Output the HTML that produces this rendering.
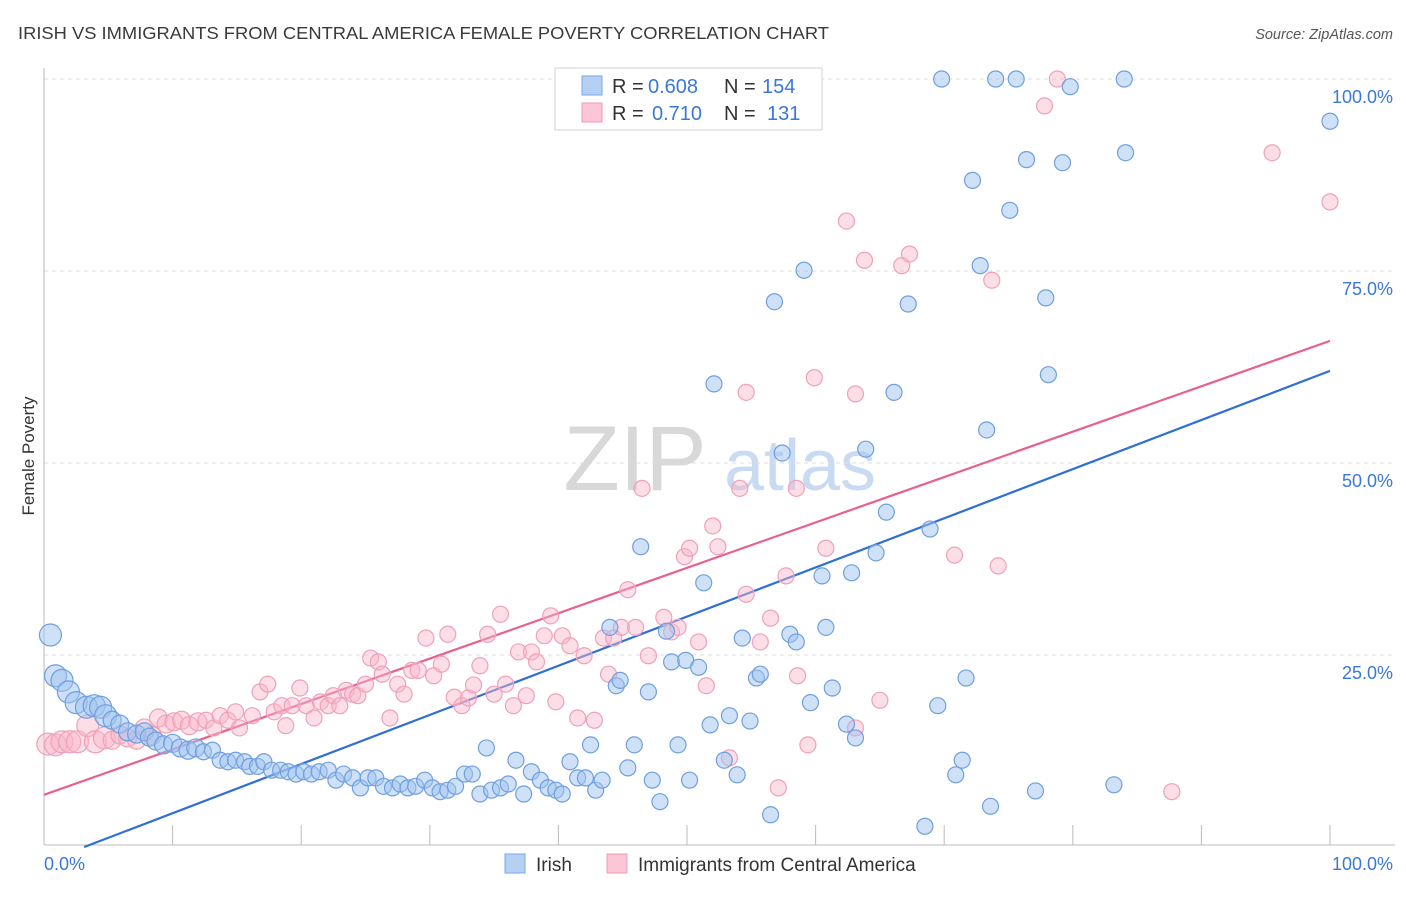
<!DOCTYPE html>
<html><head><meta charset="utf-8"><style>
body{margin:0;background:#fff;font-family:"Liberation Sans",sans-serif}
svg text{font-family:"Liberation Sans",sans-serif}
</style></head><body>
<svg id="chart" width="1406" height="892" xmlns="http://www.w3.org/2000/svg">
<text x="18" y="39" font-size="17.5" fill="#3a3a3a" textLength="811" lengthAdjust="spacingAndGlyphs">IRISH VS IMMIGRANTS FROM CENTRAL AMERICA FEMALE POVERTY CORRELATION CHART</text>
<text x="1393" y="39" font-size="14.5" fill="#555" font-style="italic" text-anchor="end">Source: ZipAtlas.com</text>
<text x="34" y="456" font-size="17" fill="#333" text-anchor="middle" transform="rotate(-90 34 456)">Female Poverty</text>
<g>
<text x="635" y="490" font-size="92" fill="#d8d8d8" font-family="Liberation Serif" text-anchor="middle">ZIP</text>
<text x="800" y="490" font-size="72" fill="#c9dbf2" text-anchor="middle">atlas</text>
</g>
<g id="grid"></g><g id="axes"></g><g id="lines"></g><g id="pts"></g>
<g>
<rect x="555" y="68" width="267" height="62" fill="#fff" stroke="#d0d0d0"/>
<rect x="582" y="76" width="20" height="19" fill="#b5d0f3" stroke="#7aa7e3"/>
<rect x="582" y="103" width="20" height="19" fill="#fcc6d6" stroke="#f09ab4"/>
<text x="612" y="93" font-size="20" fill="#333">R =</text>
<text x="648" y="93" font-size="20" fill="#3a78d8">0.608</text>
<text x="724" y="93" font-size="20" fill="#333">N =</text>
<text x="762" y="93" font-size="20" fill="#3a78d8">154</text>
<text x="612" y="120" font-size="20" fill="#333">R =</text>
<text x="652" y="120" font-size="20" fill="#3a78d8">0.710</text>
<text x="724" y="120" font-size="20" fill="#333">N =</text>
<text x="767" y="120" font-size="20" fill="#3a78d8">131</text>
</g>
<g>
<rect x="505" y="854" width="20" height="19" fill="#b5d0f3" stroke="#7aa7e3"/>
<text x="536" y="871" font-size="19" fill="#333">Irish</text>
<rect x="607" y="854" width="20" height="19" fill="#fcc6d6" stroke="#f09ab4"/>
<text x="638" y="871" font-size="19" fill="#333">Immigrants from Central America</text>
</g>
</svg>
<script>
const yTicks=[25,50,75,100];
const yTickLabels=["25.0%","50.0%","75.0%","100.0%"];
const xEdgeLabels=["0.0%","100.0%"];
const irishX=[0.5,0.9,1.4,1.9,2.5,3.3,3.9,4.4,4.8,5.3,5.9,6.5,7.2,7.8,8.2,8.7,9.3,10.0,10.6,11.2,11.8,12.4,13.1,13.7,14.3,14.9,15.6,16.0,16.6,17.1,17.7,18.4,19.0,19.6,20.2,20.8,21.4,22.1,22.7,23.3,24.0,24.6,25.2,25.8,26.4,27.1,27.7,28.3,28.9,29.6,30.2,30.8,31.4,32.0,32.7,33.3,33.9,34.4,34.8,35.5,36.1,36.7,37.3,37.9,38.6,39.2,39.8,40.3,40.9,41.5,42.1,42.5,42.9,43.4,44.0,44.5,44.8,45.4,45.9,46.4,47.0,47.3,47.9,48.4,48.8,49.3,49.9,50.2,50.9,51.3,51.8,52.1,52.9,53.3,53.9,54.3,54.9,55.4,55.7,56.5,56.8,57.4,58.0,58.5,59.1,59.6,60.5,60.8,61.3,62.4,62.8,63.1,63.9,64.7,65.5,66.1,67.2,68.5,68.9,69.5,69.8,70.9,71.4,71.7,72.2,72.8,73.3,73.6,74.0,75.1,75.6,76.4,77.1,77.9,78.1,79.2,79.8,83.2,84.0,84.1,100];
const irishY=[27.6,22.3,21.7,20.2,18.8,18.2,18.4,18.2,17.1,16.5,16.0,15.0,14.7,15.0,14.3,13.8,13.3,13.5,12.9,12.6,12.9,12.4,12.6,11.3,11.1,11.3,11.1,10.5,10.5,11.1,10.0,10.0,9.8,9.5,9.8,9.5,9.8,10.0,8.7,9.5,9.0,7.7,9.0,9.0,7.9,7.7,8.2,7.7,7.9,8.7,7.7,7.2,7.4,7.9,9.5,9.5,6.9,12.9,7.4,7.7,8.2,11.3,6.9,9.8,8.7,7.7,7.4,6.9,11.1,9.0,9.0,13.3,7.4,8.7,28.6,21.0,21.7,10.3,13.3,39.1,20.2,8.7,5.9,28.1,24.1,13.3,24.3,8.7,23.4,34.4,15.9,60.3,11.3,17.1,9.4,27.2,16.4,22.0,22.5,4.2,71.0,51.3,27.7,26.7,75.1,18.8,35.3,28.6,20.7,16.0,35.7,14.2,51.8,38.3,43.6,59.2,70.7,2.7,41.4,18.4,100,9.4,11.3,22.0,86.8,75.7,54.3,5.3,100,82.9,100,89.5,7.3,71.5,61.5,89.1,99.0,8.1,100,90.4,94.5];
const caX=[0.3,0.9,1.4,2.0,2.6,3.4,4.0,4.7,5.3,5.9,6.5,7.2,7.8,8.4,8.9,9.5,10.1,10.7,11.3,11.97,12.6,13.2,13.7,14.3,14.9,15.2,16.2,16.8,17.4,17.9,18.5,18.8,19.3,19.9,20.4,21.0,21.5,22.1,22.5,23.0,23.5,24.0,24.4,25.0,25.4,26.0,26.3,26.9,27.5,28.0,28.6,29.1,29.7,30.3,30.9,31.4,31.9,32.5,33.0,33.4,33.9,34.5,35.0,35.5,35.9,36.5,36.9,37.5,37.9,38.3,38.9,39.4,39.8,40.3,40.9,41.5,42.0,42.8,43.5,43.9,44.3,44.9,45.4,46.0,46.5,47.0,48.2,48.8,49.3,49.8,50.2,50.9,51.5,52.0,52.4,53.3,54.1,54.6,54.6,55.7,56.5,57.1,57.7,58.5,58.6,59.4,59.9,60.8,62.4,63.1,63.1,63.8,65.0,66.7,67.3,70.8,73.7,74.2,77.8,78.8,87.7,95.5,100];
const caY=[13.4,13.3,13.7,13.7,13.7,15.8,13.7,14.2,13.9,14.6,14.2,13.9,15.5,14.5,16.8,16.0,16.3,16.5,15.8,16.3,16.5,15.5,17.1,16.5,17.6,15.5,17.1,20.2,21.2,17.6,18.4,15.8,18.4,20.7,18.4,16.8,18.9,18.4,19.7,18.4,20.4,19.9,19.7,21.2,24.6,24.1,22.5,16.8,21.2,19.9,23.0,23.0,27.2,22.3,23.8,27.7,19.5,18.4,19.4,21.1,23.6,27.7,19.9,30.3,21.2,18.4,25.4,19.7,25.4,24.1,27.5,30.1,18.9,27.5,26.2,16.8,24.9,16.5,27.2,22.5,27.2,28.6,33.5,28.6,46.7,24.9,29.9,28.0,28.6,37.8,38.9,26.7,21.0,41.8,39.1,11.6,46.7,59.2,32.9,26.7,29.8,7.7,35.3,46.7,22.3,13.3,61.1,38.9,81.5,59.0,15.5,76.4,19.1,75.7,77.2,38.0,73.8,36.6,96.5,100,7.2,90.4,84.0];
const irishFit=[-2.0,62.0];
const caFit=[6.8,65.9];

const NS="http://www.w3.org/2000/svg";
const X0=44,X1=1330,Y0=847,Y100=79;
function sx(v){return X0+(X1-X0)*v/100;}
function sy(v){return Y0-(Y0-Y100)*v/100;}
function mk(tag,attrs,parent){const e=document.createElementNS(NS,tag);for(const k in attrs)e.setAttribute(k,attrs[k]);parent.appendChild(e);return e;}
const grid=document.getElementById('grid'),axes=document.getElementById('axes'),lines=document.getElementById('lines'),pts=document.getElementById('pts');
yTicks.forEach((t,i)=>{
  const l=mk('line',{x1:X0,x2:1395,y1:sy(t),y2:sy(t),stroke:'#ddd','stroke-dasharray':'4 4'},grid);
  
  
  const tx=mk('text',{x:1393,y:sy(t)+24,'font-size':18,fill:'#3a78d8','text-anchor':'end'},axes);
  tx.textContent=yTickLabels[i];
  
  
});
const ax=mk('line',{x1:X0,x2:X0,y1:68,y2:845,stroke:'#bbb'},axes);


const bx=mk('line',{x1:X0,x2:1395,y1:845,y2:845,stroke:'#bbb'},axes);


for(let i=0;i<=10;i++){
  const t=mk('line',{x1:sx(i*10),x2:sx(i*10),y1:825,y2:845,stroke:'#bbb'},axes);
  
  
}
[[0,'start',X0],[1,'end',1393]].forEach(([i,a,x])=>{
  const t=mk('text',{x:x,y:870,'font-size':18,fill:'#3a78d8','text-anchor':a},axes);
  t.textContent=xEdgeLabels[i];
  
  
});
function dots(xs,ys,fill,stroke,name){
  xs.forEach((x,i)=>{
    const r=x<5?11:(x<12?9:8);
    const c=mk('circle',{cx:sx(x),cy:sy(ys[i]),r:r,fill:fill,stroke:stroke,'stroke-width':1.2},pts);
    
    
  });
}
dots(caX,caY,'rgba(248,182,202,0.45)','#f0a0b8','central-america-point');
dots(irishX,irishY,'rgba(160,196,240,0.5)','#6f9fe0','irish-point');
function fit(f,col,name){
  const lo=Math.max(0,-f[0]/(f[1]-f[0])*100);
  const l=mk('line',{x1:sx(lo),y1:sy(f[0]+(f[1]-f[0])*lo/100),x2:sx(100),y2:sy(f[1]),stroke:col,'stroke-width':2.2},lines);
  
  
}
fit(irishFit,'#2f6fd6','irish-trend-line');
fit(caFit,'#e8608f','central-america-trend-line');
</script>
</body></html>
